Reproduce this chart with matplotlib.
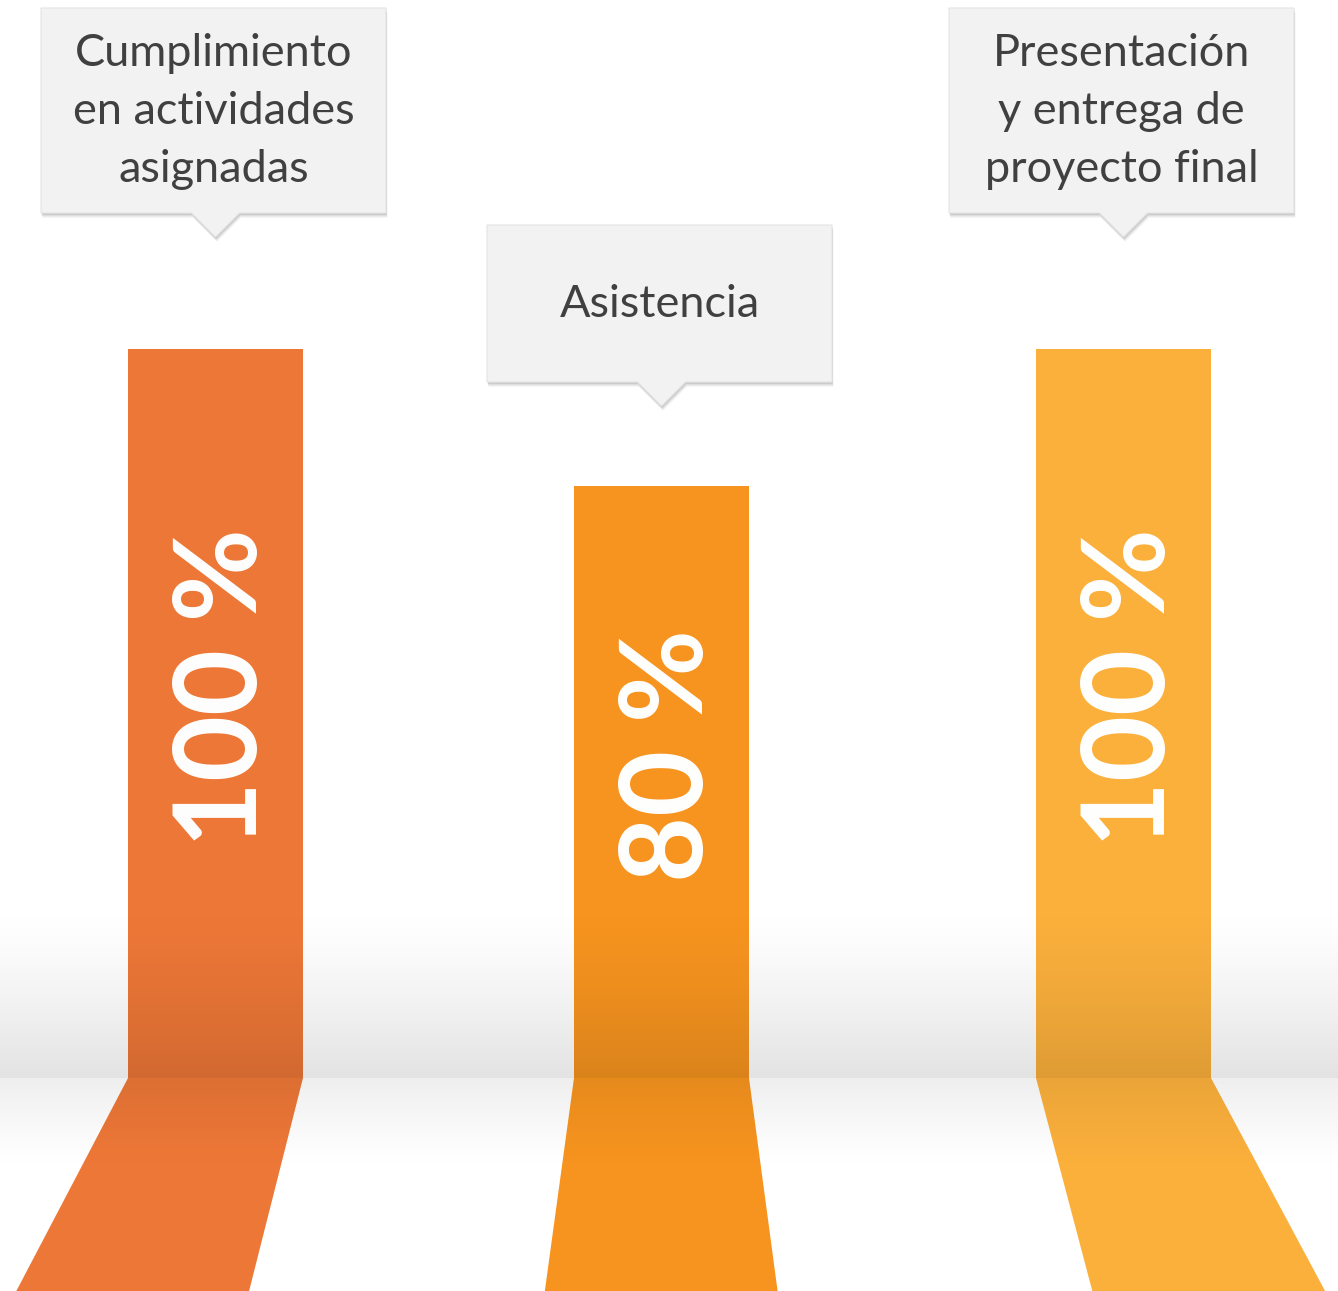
import matplotlib.pyplot as plt
import numpy as np
from matplotlib.patches import Polygon

plt.rcParams['font.family'] = ['Lato', 'DejaVu Sans']

# data
categories = ['Cumplimiento\nen actividades\nasignadas', 'Asistencia',
              'Presentación\ny entrega de\nproyecto final']
values = [100, 81.2, 100]          # bar heights as drawn
value_labels = ['100 %', '80 %', '100 %']
colors = ['#ED7737', '#F7941F', '#FBB03C']

# layout (pixels)
W, H = 1338, 1291
floor_y = 1078
top_y = 349          # top of a 100 % bar
bar_x = [215.5, 661.5, 1123.5]
bar_w = 175
box_w = 345
box_top = [8, 225, 8]
box_h = [205, 157, 205]
vp_x = 663

fig = plt.figure(figsize=(W / 100, H / 100), dpi=100)
fig.patch.set_facecolor('white')

# background / floor axes in pixel coords
bg = fig.add_axes([0, 0, 1, 1])
bg.set_xlim(0, W)
bg.set_ylim(H, 0)
bg.axis('off')

# perspective floor strips
for c, col in zip(bar_x, colors):
    cb = c + 0.185 * (c - vp_x)
    wb = bar_w * 1.33
    pts = [(c - bar_w / 2, floor_y), (c + bar_w / 2, floor_y),
           (cb + wb / 2, H), (cb - wb / 2, H)]
    bg.add_patch(Polygon(pts, closed=True, facecolor=col, edgecolor='none', zorder=2))

# bars on a 0-100 scale
ax = fig.add_axes([0, 1 - floor_y / H, 1, (floor_y - top_y) / H])
ax.set_xlim(0, W)
ax.set_ylim(0, 100)
ax.axis('off')
ax.patch.set_alpha(0)
ax.bar(bar_x, values, width=bar_w, color=colors, edgecolor='none')
for c, v, lab in zip(bar_x, values, value_labels):
    ax.text(c + 9, v / 2 + 3.6, lab, rotation=90, ha='center', va='center',
            color='white', fontsize=82, fontweight='bold')

# shading overlay (wall fades to grey at the floor line, floor fades out)
ov = fig.add_axes([0, 0, 1, 1])
ov.set_xlim(0, W)
ov.set_ylim(H, 0)
ov.axis('off')
ov.patch.set_alpha(0)
ys = np.arange(H)
alpha = np.zeros(H)
up = (ys >= 905) & (ys < floor_y)
alpha[up] = 0.115 * ((ys[up] - 905) / (floor_y - 905)) ** 1.3
dn = (ys >= floor_y) & (ys < 1170)
alpha[dn] = 0.068 * (1 - (ys[dn] - floor_y) / (1170 - floor_y)) ** 1.2
grad = np.zeros((H, 1, 4))
grad[:, 0, 3] = alpha
ov.imshow(grad, extent=[0, W, H, 0], aspect='auto', interpolation='bilinear', zorder=1)

# callout boxes
for c, lab, t, h in zip(bar_x, categories, box_top, box_h):
    x0, x1 = c - box_w / 2 - 2, c + box_w / 2 - 2
    b = t + h
    pts = [(x0, t), (x1, t), (x1, b), (c + 24, b), (c, b + 24), (c - 24, b), (x0, b)]
    for k, a in [(5, 0.035), (4, 0.045), (3, 0.06), (2, 0.08)]:
        sh = [(px + k * 0.3, py + k) for px, py in pts]
        ov.add_patch(Polygon(sh, closed=True, facecolor='black', alpha=a,
                             edgecolor='none', zorder=3))
    ov.add_patch(Polygon(pts, closed=True, facecolor='#F2F2F2', edgecolor='#E4E4E4',
                         linewidth=0.8, zorder=4))
    ov.text(c - 2, t + h / 2 + 1, lab, ha='center', va='center', color='#404040',
            fontsize=32.5, linespacing=1.5, zorder=5)

fig.savefig('out.png', dpi=100)
